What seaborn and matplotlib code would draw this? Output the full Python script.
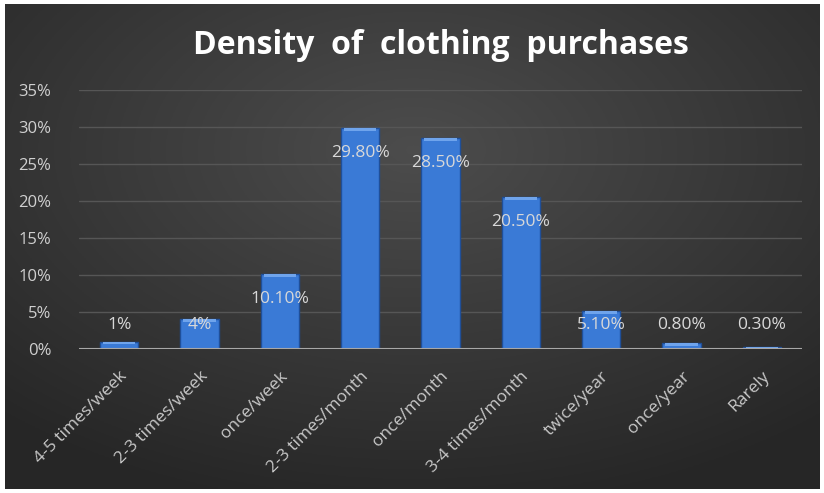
import numpy as np
import pandas as pd
import matplotlib
matplotlib.use("Agg")
import matplotlib.pyplot as plt
import seaborn as sns

categories = ["4-5 times/week", "2-3 times/week", "once/week", "2-3 times/month",
              "once/month", "3-4 times/month", "twice/year", "once/year", "Rarely"]
values = [1.0, 4.0, 10.1, 29.8, 28.5, 20.5, 5.1, 0.8, 0.3]
value_labels = ["1%", "4%", "10.10%", "29.80%", "28.50%", "20.50%", "5.10%", "0.80%", "0.30%"]
yticks = [0, 5, 10, 15, 20, 25, 30, 35]
ytick_labels = ["0%", "5%", "10%", "15%", "20%", "25%", "30%", "35%"]
title = "Density  of  clothing  purchases"

sns.set_theme(style="dark")
plt.rcParams['font.family'] = ['Open Sans', 'DejaVu Sans']

W, H = 824, 493
fig = plt.figure(figsize=(W / 100, H / 100), dpi=100, facecolor="white")

# background gradient panel
bg = fig.add_axes([0.006, 0.008, 0.988, 0.984])
yy, xx = np.mgrid[0:200, 0:330]
cx, cy = 165, 60
d = np.sqrt(((xx - cx) / 330) ** 2 + ((yy - cy) / 200) ** 2)
img = np.clip(d / 0.75, 0, 1)
c_in = np.array([0.30, 0.30, 0.30])
c_out = np.array([0.15, 0.15, 0.15])
rgb = c_in[None, None, :] * (1 - img[..., None]) + c_out[None, None, :] * img[..., None]
bg.imshow(rgb, aspect="auto", extent=[0, 1, 0, 1], origin="upper")
bg.set_axis_off()

ax = fig.add_axes([79 / W, 1 - 349 / H, (802 - 79) / W, (349 - 90) / H])
ax.patch.set_alpha(0)

df = pd.DataFrame({"cat": categories, "val": values})
sns.barplot(data=df, x="cat", y="val", ax=ax, color="#3a7ad6", width=0.48,
            edgecolor="#1f4f99", linewidth=1.0, saturation=1)

# highlight on bar tops
for p in ax.patches:
    x0 = p.get_x()
    w = p.get_width()
    h = p.get_height()
    ax.add_patch(plt.Rectangle((x0 + w * 0.08, h - min(h, 0.35)), w * 0.84, min(h, 0.35),
                               color="#6fa4ec", lw=0, zorder=3))

ax.set_ylim(0, 35)
ax.set_xlim(-0.5, len(categories) - 0.5)
ax.set_yticks(yticks)
ax.set_yticklabels(ytick_labels, color="#d0d0d0", fontsize=12)
ax.set_xticks(range(len(categories)))
ax.set_xticklabels(categories, rotation=45, ha="right", rotation_mode="anchor",
                   color="#c8c8c8", fontsize=12.5)
ax.tick_params(axis="x", pad=14, length=0)
ax.tick_params(axis="y", pad=20, length=0)
ax.set_xlabel("")
ax.set_ylabel("")
ax.grid(axis="y", color="#565656", lw=1)
ax.set_axisbelow(True)
for s in ax.spines.values():
    s.set_visible(False)
ax.axhline(0, color="#a8a8a8", lw=1.5, zorder=4)

for i, (v, lab) in enumerate(zip(values, value_labels)):
    ax.text(i, max(v - 3.3, 3.2), lab, ha="center", va="center",
            color="#d8d8d8", fontsize=12.5, zorder=5)

fig.text(441 / W, 1 - 46 / H, title, ha="center", va="center", color="white",
         fontsize=23, fontweight="bold")

fig.savefig("out.png", dpi=100, facecolor="white")
